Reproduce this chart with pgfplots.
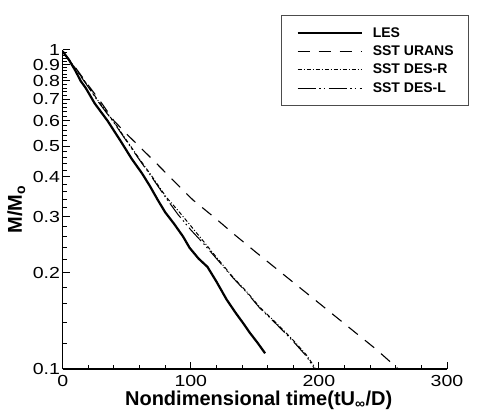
\documentclass[border=0pt]{standalone}
\usepackage{fontspec}
\setmainfont{Liberation Sans}
\newfontfamily\tickfont[FakeStretch=1.22]{Liberation Sans}
\usepackage{pgfplots}
\pgfplotsset{compat=1.18}

\begin{document}
\begin{tikzpicture}[x=1pt,y=1pt]
\useasboundingbox (0,0) rectangle (478,414);
\begin{axis}[
  at={(62.7pt,45pt)}, anchor=south west,
  scale only axis, width=384.3pt, height=319pt,
  xmin=0, xmax=300, ymode=log, ymin=0.1, ymax=1,
  axis x line=bottom, axis y line=left,
  axis line style={-, line width=1.3pt},
  xtick={0,100,200,300}, xticklabels={0,100,200,300},
  minor x tick num=4,
  ytick={0.1,0.2,0.3,0.4,0.5,0.6,0.7,0.8,0.9,1},
  yticklabels={0.1,0.2,0.3,0.4,0.5,0.6,0.7,0.8,0.9,1},
  minor ytick={0.12,0.14,0.16,0.18,0.22,0.24,0.26,0.28,0.32,0.34,0.36,0.38,
    0.42,0.44,0.46,0.48,0.52,0.54,0.56,0.58,0.62,0.64,0.66,0.68,
    0.72,0.74,0.76,0.78,0.82,0.84,0.86,0.88,0.92,0.94,0.96,0.98},
  tick align=inside,
  major tick length=7pt, minor tick length=4pt,
  every tick/.style={black, line width=1pt},
  ticklabel style={font=\tickfont\fontsize{16}{16}\selectfont, inner sep=0pt},
  yticklabel style={xshift=-2.5pt},
  xticklabel style={yshift=-6.5pt},
  xlabel={Nondimensional time(tU\textsubscript{∞}/D)},
  xlabel style={at={(axis description cs:0.51,-0.1155)}, anchor=base,
    font=\fontsize{20}{20}\selectfont\bfseries},
  ylabel={M/M\textsubscript{o}},
  ylabel style={at={(axis description cs:-0.106,0.5)}, anchor=base,
    font=\fontsize{20}{20}\selectfont\bfseries},
  legend style={at={(0.568,1.1097)}, anchor=north west, draw=black!70,
    line width=1.2pt, font=\fontsize{14}{14}\selectfont\bfseries,
    inner xsep=15pt, inner ysep=12pt, row sep=7pt,
    nodes={inner sep=0pt},
    /tikz/every odd column/.append style={column sep=10pt}},
  legend cell align=left,
  legend image code/.code={\draw[#1] (0pt,0pt) -- (64pt,0pt);},
]
% LES
\addplot[black, line width=2.2pt] coordinates {
  (0,0.99) (5,0.93) (10,0.86) (14,0.80) (18,0.76) (25,0.68) (35,0.60)
  (45,0.52) (54,0.455) (62,0.41) (68,0.375) (74,0.34) (80,0.31)
  (87,0.285) (94,0.26) (99,0.24) (106,0.222) (113,0.209) (120,0.188)
  (128,0.165) (135,0.150) (141,0.139) (146,0.130) (152,0.121) (158,0.112)
};
\addlegendentry{LES}
% SST URANS
\addplot[black, line width=1.1pt, dash pattern=on 12pt off 9pt] coordinates {
  (0,0.99) (10,0.88) (20,0.775) (30,0.685) (40,0.60) (50,0.545)
  (62.6,0.486) (72,0.446) (85,0.395) (101.6,0.339) (120,0.295)
  (135,0.262) (151.6,0.231) (175,0.194) (200,0.161) (224,0.1345)
  (245,0.115) (262,0.100)
};
\addlegendentry{SST URANS}
% SST DES-R
\addplot[black, line width=1pt, dash pattern=on 4pt off 2pt on 1pt off 2pt] coordinates {
  (0,0.99) (10,0.875) (20,0.77) (28,0.69) (40,0.595) (50,0.52)
  (60,0.455) (70,0.40) (81,0.345) (90,0.314) (100,0.281) (110,0.251)
  (120,0.224) (133,0.194) (144,0.174) (154,0.156) (167,0.139)
  (180,0.123) (190,0.111) (197,0.101)
};
\addlegendentry{SST DES-R}
% SST DES-L
\addplot[black, line width=1pt, dash pattern=on 18pt off 3.5pt on 1.5pt off 3pt on 1.5pt off 3.5pt] coordinates {
  (0,0.99) (10,0.872) (20,0.765) (28,0.686) (40,0.592) (50,0.517)
  (60,0.452) (70,0.397) (81,0.342) (90,0.305) (100,0.273) (110,0.247)
  (120,0.222) (133,0.193) (144,0.173) (154,0.155) (167,0.138)
  (180,0.122) (190,0.110) (196,0.101)
};
\addlegendentry{SST DES-L}
\end{axis}
\end{tikzpicture}
\end{document}
